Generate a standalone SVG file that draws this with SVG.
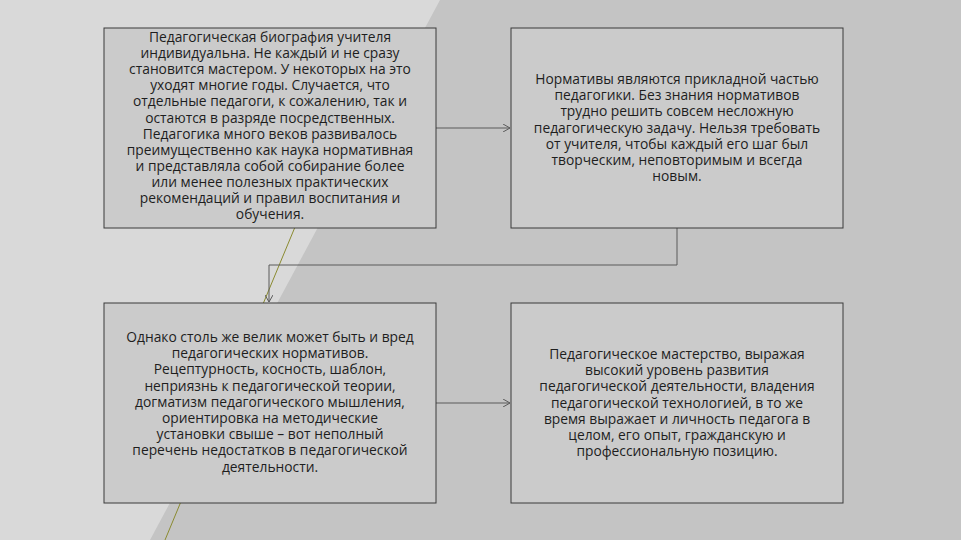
<svg xmlns="http://www.w3.org/2000/svg" width="961" height="540" viewBox="0 0 961 540">
<style>
.b{fill:#cbcbcb;stroke:#3a3a3a;stroke-width:1}
.t{font-family:"Open Sans","Noto Sans",sans-serif;font-size:13.8px;fill:#1e1e1e;text-anchor:middle}
.c{fill:none;stroke:#5a5a5a;stroke-width:1}
</style>
<defs><marker id="a" markerWidth="8" markerHeight="8" refX="7" refY="4" orient="auto" markerUnits="userSpaceOnUse"><path d="M0,0 L7,4 L0,8" fill="none" stroke="#5a5a5a"/></marker></defs>
<rect width="961" height="540" fill="#c4c4c4"/>
<polygon points="0,0 440,0 150,540 0,540" fill="#d9d9d9"/>
<line x1="300" y1="215" x2="165" y2="540" stroke="#8a8a30" stroke-width="1"/>
<g id="connectors">
<path class="c" d="M436,128 L510,128" marker-end="url(#a)"/>
<path class="c" d="M677,228 L677,265 L269,265 L269,302" marker-end="url(#a)"/>
<path class="c" d="M436,403 L510,403" marker-end="url(#a)"/>
</g>
<g id="n1"><rect class="b" x="104" y="28" width="332" height="200"/>
<text class="t" x="270" y="42"><tspan x="270">Педагогическая биография учителя</tspan><tspan x="270" dy="16.1">индивидуальна. Не каждый и не сразу</tspan><tspan x="270" dy="16.1">становится мастером. У некоторых на это</tspan><tspan x="270" dy="16.1">уходят многие годы. Случается, что</tspan><tspan x="270" dy="16.1">отдельные педагоги, к сожалению, так и</tspan><tspan x="270" dy="16.1">остаются в разряде посредственных.</tspan><tspan x="270" dy="16.1">Педагогика много веков развивалось</tspan><tspan x="270" dy="16.1">преимущественно как наука нормативная</tspan><tspan x="270" dy="16.1">и представляла собой собирание более</tspan><tspan x="270" dy="16.1">или менее полезных практических</tspan><tspan x="270" dy="16.1">рекомендаций и правил воспитания и</tspan><tspan x="270" dy="16.1">обучения.</tspan></text></g>
<g id="n2"><rect class="b" x="511" y="28" width="332" height="200"/>
<text class="t" x="677" y="84"><tspan x="677">Нормативы являются прикладной частью</tspan><tspan x="677" dy="16.2">педагогики. Без знания нормативов</tspan><tspan x="677" dy="16.2">трудно решить совсем несложную</tspan><tspan x="677" dy="16.2">педагогическую задачу. Нельзя требовать</tspan><tspan x="677" dy="16.2">от учителя, чтобы каждый его шаг был</tspan><tspan x="677" dy="16.2">творческим, неповторимым и всегда</tspan><tspan x="677" dy="16.2">новым.</tspan></text></g>
<g id="n3"><rect class="b" x="104" y="303" width="332" height="200"/>
<text class="t" x="270" y="342"><tspan x="270">Однако столь же велик может быть и вред</tspan><tspan x="270" dy="16.2">педагогических нормативов.</tspan><tspan x="270" dy="16.2">Рецептурность, косность, шаблон,</tspan><tspan x="270" dy="16.2">неприязнь к педагогической теории,</tspan><tspan x="270" dy="16.2">догматизм педагогического мышления,</tspan><tspan x="270" dy="16.2">ориентировка на методические</tspan><tspan x="270" dy="16.2">установки свыше – вот неполный</tspan><tspan x="270" dy="16.2">перечень недостатков в педагогической</tspan><tspan x="270" dy="16.2">деятельности.</tspan></text></g>
<g id="n4"><rect class="b" x="511" y="303" width="332" height="200"/>
<text class="t" x="677" y="359"><tspan x="677">Педагогическое мастерство, выражая</tspan><tspan x="677" dy="16.2">высокий уровень развития</tspan><tspan x="677" dy="16.2">педагогической деятельности, владения</tspan><tspan x="677" dy="16.2">педагогической технологией, в то же</tspan><tspan x="677" dy="16.2">время выражает и личность педагога в</tspan><tspan x="677" dy="16.2">целом, его опыт, гражданскую и</tspan><tspan x="677" dy="16.2">профессиональную позицию.</tspan></text></g>
</svg>
